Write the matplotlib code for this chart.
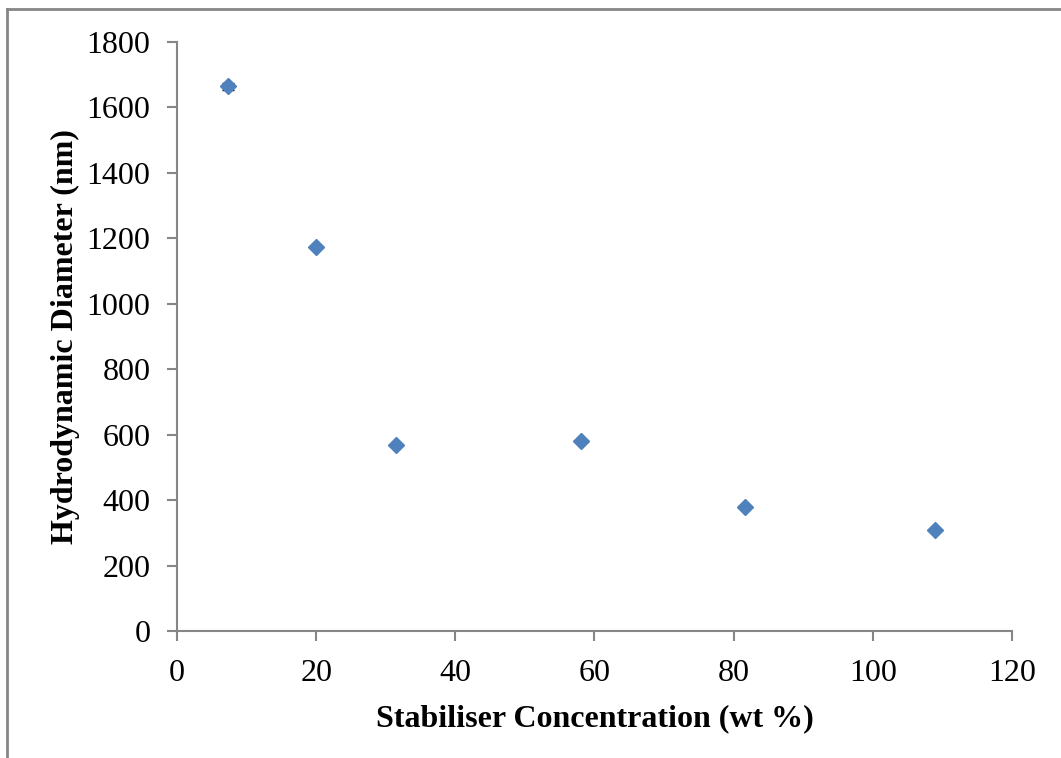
import matplotlib
matplotlib.use("Agg")
import matplotlib.pyplot as plt
from matplotlib.lines import Line2D

# Stabiliser concentration (wt %) vs hydrodynamic diameter (nm)
concentration = [7.3, 20.0, 31.5, 58.0, 81.6, 108.9]
diameter = [1665, 1173, 570, 580, 380, 310]
diameter_err = [11, 0, 0, 0, 0, 0]

x_ticks = [0, 20, 40, 60, 80, 100, 120]
y_ticks = [0, 200, 400, 600, 800, 1000, 1200, 1400, 1600, 1800]

plt.rcParams['font.family'] = ['Liberation Serif', 'DejaVu Serif']
axis_grey = '#868686'
marker_blue = '#4F81BD'

fig = plt.figure(figsize=(10.61, 7.58), dpi=100)
ax = fig.add_axes([0.1668, 0.1675, 0.9538 - 0.1668, 0.9446 - 0.1675])

ax.errorbar(concentration, diameter, yerr=diameter_err, fmt='none',
            ecolor='black', elinewidth=1.0, capsize=4, capthick=1.0, zorder=2)
ax.plot(concentration, diameter, linestyle='none', marker='D',
        markersize=8, color=marker_blue, zorder=3)

ax.set_xlim(0, 120)
ax.set_ylim(0, 1800)
ax.set_xticks(x_ticks)
ax.set_yticks(y_ticks)

for side in ['top', 'right']:
    ax.spines[side].set_visible(False)
for side in ['left', 'bottom']:
    ax.spines[side].set_color(axis_grey)
    ax.spines[side].set_linewidth(1.5)

ax.tick_params(axis='both', direction='out', length=7, width=1.5,
               color=axis_grey, labelsize=23, labelcolor='black')
ax.tick_params(axis='y', pad=12)
ax.tick_params(axis='x', pad=13)

ax.set_xlabel('Stabiliser Concentration (wt %)', fontsize=23,
              fontweight='bold', labelpad=12)
ax.set_ylabel('Hydrodynamic Diameter (nm)', fontsize=23,
              fontweight='bold', labelpad=5)

# Frame lines around the chart area (top and left)
W, H = 1061, 758
fig.add_artist(Line2D([7 / W, 1.0], [1 - 9 / H, 1 - 9 / H],
                      transform=fig.transFigure, color=axis_grey, lw=2.0))
fig.add_artist(Line2D([7 / W, 7 / W], [0.0, 1 - 9 / H],
                      transform=fig.transFigure, color=axis_grey, lw=2.0))

fig.savefig('out.png', dpi=100)
